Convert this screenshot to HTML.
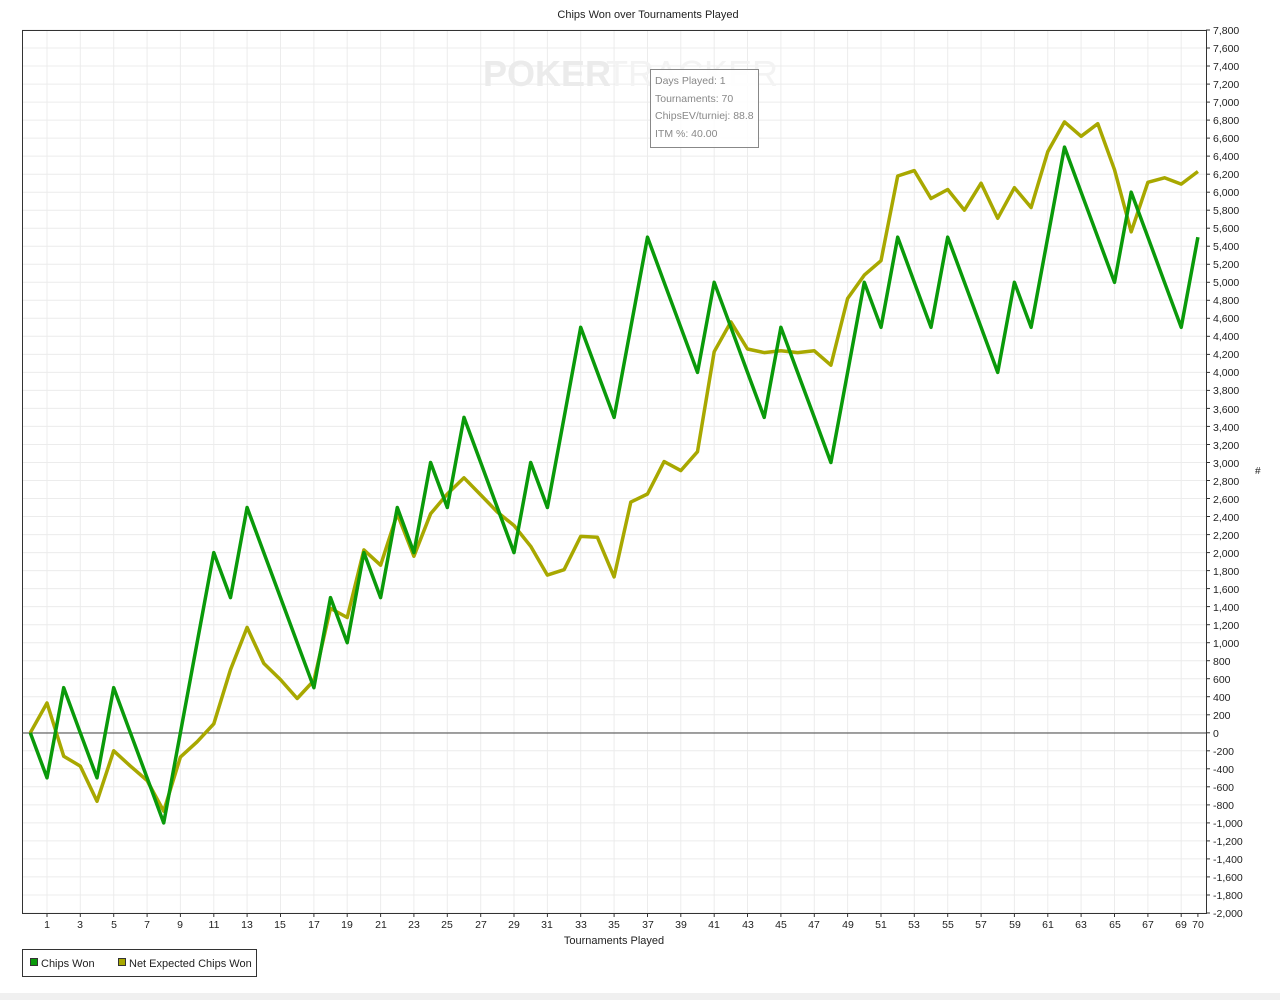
<!DOCTYPE html>
<html><head><meta charset="utf-8"><style>
html,body{margin:0;padding:0;background:#fff;width:1280px;height:1000px;overflow:hidden;font-family:"Liberation Sans",sans-serif;}
svg text{font-family:"Liberation Sans",sans-serif;fill:#222;}
</style></head><body>
<svg width="1280" height="1000" xmlns="http://www.w3.org/2000/svg">
<rect x="0" y="993" width="1280" height="7" fill="#f0f0f0"/>
<text x="648" y="18" font-size="11" text-anchor="middle">Chips Won over Tournaments Played</text>
<g id="grid"></g>
<text x="483" y="86" font-size="36" font-weight="bold" fill="#ececec" style="fill:#ebebeb">POKER</text>
<text x="606" y="86" font-size="36" fill="#f3f3f3" style="fill:#f3f3f3">TRACKER</text>
<rect x="22.5" y="30.5" width="1184" height="883" fill="none" stroke="#333" stroke-width="1"/>
<line x1="22" y1="733" x2="1206" y2="733" stroke="#444" stroke-width="1"/>
<g id="ticks"></g>
<polyline id="ev" fill="none" stroke="#a8a800" stroke-width="3.5" stroke-linejoin="round"/>
<polyline id="cw" fill="none" stroke="#0a9a0a" stroke-width="3.5" stroke-linejoin="round"/>
<rect x="650.5" y="69.5" width="108" height="78" fill="#fff" fill-opacity="0.85" stroke="#888"/>
<g font-size="10.5" style="fill:#888"><text x="655" y="84" style="fill:#888">Days Played: 1</text><text x="655" y="102" style="fill:#888">Tournaments: 70</text><text x="655" y="119" style="fill:#888">ChipsEV/turniej: 88.8</text><text x="655" y="137" style="fill:#888">ITM %: 40.00</text></g>
<g font-size="10.5" text-anchor="start">
<text x="1213" y="34">7,800</text><text x="1213" y="52">7,600</text><text x="1213" y="70">7,400</text><text x="1213" y="88">7,200</text><text x="1213" y="106">7,000</text><text x="1213" y="124">6,800</text><text x="1213" y="142">6,600</text><text x="1213" y="160">6,400</text><text x="1213" y="178">6,200</text><text x="1213" y="196">6,000</text><text x="1213" y="214">5,800</text><text x="1213" y="232">5,600</text><text x="1213" y="250">5,400</text><text x="1213" y="268">5,200</text><text x="1213" y="286">5,000</text><text x="1213" y="304">4,800</text><text x="1213" y="322">4,600</text><text x="1213" y="340">4,400</text><text x="1213" y="358">4,200</text><text x="1213" y="376">4,000</text><text x="1213" y="394">3,800</text><text x="1213" y="413">3,600</text><text x="1213" y="431">3,400</text><text x="1213" y="449">3,200</text><text x="1213" y="467">3,000</text><text x="1213" y="485">2,800</text><text x="1213" y="503">2,600</text><text x="1213" y="521">2,400</text><text x="1213" y="539">2,200</text><text x="1213" y="557">2,000</text><text x="1213" y="575">1,800</text><text x="1213" y="593">1,600</text><text x="1213" y="611">1,400</text><text x="1213" y="629">1,200</text><text x="1213" y="647">1,000</text><text x="1213" y="665">800</text><text x="1213" y="683">600</text><text x="1213" y="701">400</text><text x="1213" y="719">200</text><text x="1213" y="737">0</text><text x="1213" y="755">-200</text><text x="1213" y="773">-400</text><text x="1213" y="791">-600</text><text x="1213" y="809">-800</text><text x="1213" y="827">-1,000</text><text x="1213" y="845">-1,200</text><text x="1213" y="863">-1,400</text><text x="1213" y="881">-1,600</text><text x="1213" y="899">-1,800</text><text x="1213" y="917">-2,000</text>
</g>
<text x="1255" y="474" font-size="10">#</text>
<g font-size="10.5" text-anchor="middle">
<text x="47" y="928">1</text><text x="80" y="928">3</text><text x="114" y="928">5</text><text x="147" y="928">7</text><text x="180" y="928">9</text><text x="214" y="928">11</text><text x="247" y="928">13</text><text x="280" y="928">15</text><text x="314" y="928">17</text><text x="347" y="928">19</text><text x="381" y="928">21</text><text x="414" y="928">23</text><text x="447" y="928">25</text><text x="481" y="928">27</text><text x="514" y="928">29</text><text x="547" y="928">31</text><text x="581" y="928">33</text><text x="614" y="928">35</text><text x="648" y="928">37</text><text x="681" y="928">39</text><text x="714" y="928">41</text><text x="748" y="928">43</text><text x="781" y="928">45</text><text x="814" y="928">47</text><text x="848" y="928">49</text><text x="881" y="928">51</text><text x="914" y="928">53</text><text x="948" y="928">55</text><text x="981" y="928">57</text><text x="1015" y="928">59</text><text x="1048" y="928">61</text><text x="1081" y="928">63</text><text x="1115" y="928">65</text><text x="1148" y="928">67</text><text x="1181" y="928">69</text><text x="1198" y="928">70</text>
</g>
<text x="614" y="944" font-size="11" text-anchor="middle">Tournaments Played</text>
<rect x="22.5" y="949.5" width="234" height="27" fill="#fff" stroke="#333"/>
<rect x="30.5" y="958.5" width="7" height="7" fill="#0a9a0a" stroke="#333"/>
<text x="41" y="967" font-size="11">Chips Won</text>
<rect x="118.5" y="958.5" width="7" height="7" fill="#a8a800" stroke="#333"/>
<text x="129" y="967" font-size="11">Net Expected Chips Won</text>
</svg>
<script>
var X=function(i){return 30.3+i*16.68},Y=function(v){return 30+(7800-v)*0.0901};
var g='';
for(var v=-2000;v<=7800;v+=200){var y=Y(v).toFixed(1);g+='<line x1="22" x2="1206" y1="'+y+'" y2="'+y+'" stroke="#ececec"/>';}
var t='';
for(var i=1;i<=69;i+=2){var x=X(i).toFixed(1);g+='<line y1="30" y2="913" x1="'+x+'" x2="'+x+'" stroke="#ececec"/>';t+='<line y1="913" y2="917" x1="'+x+'" x2="'+x+'" stroke="#333"/>';}
t+='<line y1="913" y2="917" x1="'+X(70)+'" x2="'+X(70)+'" stroke="#333"/>';
for(var v=-2000;v<=7800;v+=200){var y=Y(v).toFixed(1);t+='<line x1="1206" x2="1210" y1="'+y+'" y2="'+y+'" stroke="#333"/>';}
document.getElementById('grid').innerHTML=g;document.getElementById('ticks').innerHTML=t;
var cw=[0,-500,500,0,-500,500,0,-500,-1000,0,1000,2000,1500,2500,2000,1500,1000,500,1500,1000,2000,1500,2500,2000,3000,2500,3500,3000,2500,2000,3000,2500,3500,4500,4000,3500,4500,5500,5000,4500,4000,5000,4500,4000,3500,4500,4000,3500,3000,4000,5000,4500,5500,5000,4500,5500,5000,4500,4000,5000,4500,5500,6500,6000,5500,5000,6000,5500,5000,4500,5500];
var ev=[0,330,-260,-370,-760,-200,-370,-530,-870,-270,-100,100,700,1170,770,590,380,580,1380,1280,2030,1860,2430,1960,2430,2650,2830,2640,2450,2300,2070,1750,1810,2180,2170,1730,2560,2650,3010,2910,3120,4230,4560,4260,4220,4240,4220,4240,4080,4820,5080,5240,6180,6240,5930,6030,5800,6100,5710,6050,5830,6450,6780,6620,6760,6250,5560,6110,6160,6090,6230];
function pts(a){return a.map(function(v,i){return X(i).toFixed(1)+','+Y(v).toFixed(1)}).join(' ')}
document.getElementById('cw').setAttribute('points',pts(cw));document.getElementById('ev').setAttribute('points',pts(ev));
</script>
</body></html>
